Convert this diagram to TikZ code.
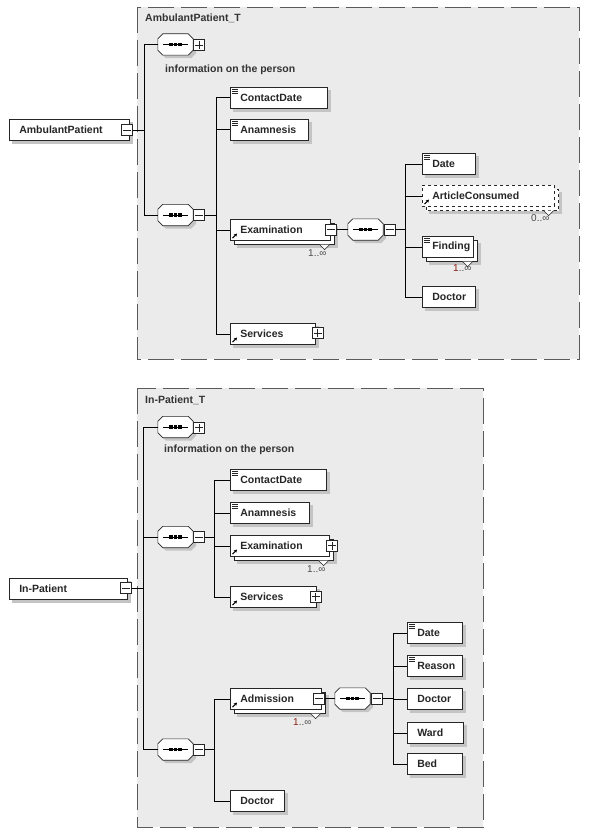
\documentclass[tikz,border=0pt]{standalone}
\usepackage{fontspec}
\setmainfont{Liberation Sans}
\usepackage{tikz}
\usetikzlibrary{arrows.meta}

\newcommand{\elemfont}{\fontsize{10.5}{12}\selectfont\bfseries}
\definecolor{panelgray}{RGB}{235,235,235}
\definecolor{shadowgray}{RGB}{196,196,196}
\definecolor{framegray}{RGB}{90,90,90}
\definecolor{cardred}{RGB}{140,30,20}

\pgfdeclarelayer{bg}
\pgfdeclarelayer{shade}
\pgfsetlayers{bg,shade,main}

\tikzset{
  elem/.style={draw=black!85, fill=white, anchor=north west, minimum height=21pt, inner xsep=10pt, inner ysep=0pt, align=left, font=\elemfont, text=black!85, line width=0.6pt, text width=#1},
  elemopt/.style={elem=#1, dashed},
  copybox/.style={draw=black!85, fill=white, line width=0.6pt},
  seq/.style={rectangle, minimum width=35pt, minimum height=21pt, inner sep=0pt},
  octo/.style={draw=black!85, fill=white, line width=0.6pt},
  octopath/.style 2 args={insert path={([shift={(5+#2,#2)}]#1.north west) -- ([shift={(-5+#2,#2)}]#1.north east) -- ([shift={(#2,5+#2)}]#1.north east) -- ([shift={(#2,-5+#2)}]#1.south east) -- ([shift={(-5+#2,#2)}]#1.south east) -- ([shift={(5+#2,#2)}]#1.south west) -- ([shift={(#2,-5+#2)}]#1.south west) -- ([shift={(#2,5+#2)}]#1.north west) -- cycle}},
  xbox/.style={rectangle, draw=black!85, fill=white, minimum size=11pt, inner sep=0pt, line width=0.6pt},
  minusbox/.style={xbox, path picture={\draw[line width=0.6pt] (path picture bounding box.center) +(-4pt,0) -- +(4pt,0);}},
  plusbox/.style={xbox, path picture={\draw[line width=0.6pt] (path picture bounding box.center) +(-4pt,0) -- +(4pt,0) (path picture bounding box.center) +(0,-4pt) -- +(0,4pt);}},
  conn/.style={draw=black, line width=0.6pt},
  frame/.style={draw=framegray, fill=panelgray, line width=0.8pt, dash pattern=on 26pt off 7pt},
  title/.style={anchor=west, font=\elemfont, text=black!80, inner sep=0pt},
  card/.style={anchor=west, font=\fontsize{10}{11}\selectfont, text=black!70, inner sep=0pt},
  notch/.style={draw=black!85, fill=white, line width=0.6pt},
  refarrow/.style={-{Stealth[length=3pt,width=3.4pt]}, line width=1pt},
  docline/.style={line width=0.5pt, black!85},
}

\begin{document}
\begin{tikzpicture}[x=1pt,y=1pt,yscale=-1,xscale=1]
\useasboundingbox (0,0) rectangle (590,832);

\begin{pgfonlayer}{bg}
\fill[white] (0,0) rectangle (590,832);
%Shape: Frame [AmbulantPatient_T]
\draw[frame] (137,7) rectangle (579,359);
%Shape: Frame [In-Patient_T]
\draw[frame] (137,388) rectangle (483,827);
\end{pgfonlayer}

% Text Node
\node[title] (ttA) at (145,18) {AmbulantPatient\_T};
% Text Node
\node[title] (ttB) at (145,400) {In-Patient\_T};

%Shape: Element [AmbulantPatient]
\node[elem=100] (apE) at (9,119) {AmbulantPatient};
\node[minusbox] (apEx) at (127,130) {};

%Shape: Sequence [information on the person]
\node[seq] (sA1) at (175.5,44.5) {};
\node[plusbox] (sA1x) at (199,45) {};
% Text Node
\node[title] (inA) at (165,70) {information on the person};

%Shape: Sequence
\node[seq] (sA2) at (175.5,215) {};
\node[minusbox] (sA2x) at (199,215) {};

%Shape: Element children
\node[elem=77] (cdA) at (230,87) {ContactDate};
\node[elem=58] (anA) at (230,119) {Anamnesis};
\node[elem=80] (exA) at (230,219) {Examination};
\node[minusbox] (exAx) at (331,229.5) {};
\node[card] (exAc) at (308,253) {1..∞};
\node[elem=65] (svA) at (230,323) {Services};
\node[plusbox] (svAx) at (317.5,333) {};

%Shape: Sequence [Examination]
\node[seq] (sA3) at (365.5,229.5) {};
\node[minusbox] (sA3x) at (389.5,229.5) {};

\node[elem=33] (dtA) at (422,153) {Date};
\node[elemopt=112] (acA) at (422,185) {ArticleConsumed};
\node[card] (acAc) at (531,218) {0..∞};
\node[elem=31] (fdA) at (422,236) {Finding};
\node[card] (fdAc) at (453,268) {\textcolor{cardred}{1}..∞};
\node[elem=33] (drA) at (422,286) {Doctor};

%Shape: Element [In-Patient]
\node[elem=98] (ipE) at (9,578) {In-Patient};
\node[minusbox] (ipEx) at (126,588) {};

%Shape: Sequence [information on the person]
\node[seq] (sB1) at (175.5,427) {};
\node[plusbox] (sB1x) at (199,427.5) {};
% Text Node
\node[title] (inB) at (164,450) {information on the person};

%Shape: Sequence
\node[seq] (sB2) at (175.5,537) {};
\node[minusbox] (sB2x) at (199,537) {};

\node[elem=76] (cdB) at (230,469) {ContactDate};
\node[elem=59] (anB) at (230,502) {Anamnesis};
\node[elem=79] (exB) at (230,535) {Examination};
\node[plusbox] (exBx) at (332,545.5) {};
\node[card] (exBc) at (307,569) {1..∞};
\node[elem=66] (svB) at (230,586) {Services};
\node[plusbox] (svBx) at (315.5,596.5) {};

%Shape: Sequence
\node[seq] (sB3) at (175.5,749.5) {};
\node[minusbox] (sB3x) at (199,749.5) {};

\node[elem=71] (adB) at (230,688) {Admission};
\node[minusbox] (adBx) at (319,698.5) {};
\node[card] (adBc) at (293,722) {\textcolor{cardred}{1}..∞};
\node[elem=34] (drB) at (230,790) {Doctor};

%Shape: Sequence [Admission]
\node[seq] (sB4) at (352.5,698.5) {};
\node[minusbox] (sB4x) at (376.5,698.5) {};

\node[elem=35] (dtB) at (407,622) {Date};
\node[elem=35] (rsB) at (407,655) {Reason};
\node[elem=35] (dcB) at (407,688) {Doctor};
\node[elem=36] (wdB) at (407,722) {Ward};
\node[elem=35] (bdB) at (407,753) {Bed};

%Shape: shadows and repeated copies
\begin{pgfonlayer}{shade}
\foreach \n in {apE,cdA,anA,svA,dtA,drA,ipE,cdB,anB,svB,drB,dtB,rsB,dcB,wdB,bdB} \fill[shadowgray] ([shift={(3,3)}]\n.north west) rectangle ([shift={(3,3)}]\n.south east);
\foreach \n in {exA,acA,fdA,exB,adB} \fill[shadowgray] ([shift={(7,7)}]\n.north west) rectangle ([shift={(7,7)}]\n.south east);
\foreach \n in {exA,fdA,exB,adB} \draw[copybox] ([shift={(4,4)}]\n.north west) rectangle ([shift={(4,4)}]\n.south east);
\draw[copybox,dashed] ([shift={(4,4)}]acA.north west) rectangle ([shift={(4,4)}]acA.south east);
\foreach \n in {sA1,sA2,sA3,sB1,sB2,sB3,sB4} \fill[shadowgray, octopath={\n}{3}];
\end{pgfonlayer}

%Shape: Sequence symbols
\foreach \n in {sA1,sA2,sA3,sB1,sB2,sB3,sB4} {
  \draw[octo, octopath={\n}{0}];
  \draw[conn] ([shift={(-12.5,0)}]\n.center) -- ([shift={(12.5,0)}]\n.center);
  \foreach \d in {-4.4,0,4.4} \fill ([shift={(\d,0)}]\n.center) +(-1.9,-1.6) rectangle +(1.9,1.6);
}

%Straight Lines [connectors]
\draw[conn] (apEx.east) -- ++(11,0) coordinate (tA1);
\draw[conn] (sA1.west) -| (tA1) |- (sA2.west);
\draw[conn] (sA2x.east) -- ++(11,0) coordinate (tA2);
\foreach \n in {cdA,anA,exA,svA} \draw[conn] (tA2) |- (\n.west);
\draw[conn] (exAx.east) -- (sA3.west);
\draw[conn] (sA3x.east) -- ++(10,0) coordinate (tA3);
\foreach \n in {dtA,acA,fdA,drA} \draw[conn] (tA3) |- (\n.west);

\draw[conn] (ipEx.east) -- ++(11.5,0) coordinate (tB1);
\draw[conn] (sB1.west) -| (tB1) |- (sB3.west);
\draw[conn] (tB1) |- (sB2.west);
\draw[conn] (sB2x.east) -- ++(9.5,0) coordinate (tB2);
\foreach \n in {cdB,anB,exB,svB} \draw[conn] (tB2) |- (\n.west);
\draw[conn] (sB3x.east) -- ++(9.5,0) coordinate (tB3);
\foreach \n in {adB,drB} \draw[conn] (tB3) |- (\n.west);
\draw[conn] (adBx.east) -- (sB4.west);
\draw[conn] (sB4x.east) -- ++(11,0) coordinate (tB4);
\foreach \n in {dtB,rsB,dcB,wdB,bdB} \draw[conn] (tB4) |- (\n.west);

%Shape: icons
\foreach \n in {exA,acA,fdA,exB,adB} \draw[notch] ([shift={(-11,4)}]\n.south east) -- ++(5,5) -- ++(5,-5);
\foreach \n in {exA,svA,acA,exB,svB,adB} \draw[refarrow] ([shift={(2.5,-2.5)}]\n.south west) -- ++(4.5,-4.5);
\foreach \n in {cdA,anA,dtA,fdA,cdB,anB,dtB,rsB} \foreach \k in {0,1.8,3.6} \draw[docline] ([shift={(2,2.5+\k)}]\n.north west) -- ++(6,0);

\end{tikzpicture}
\end{document}
